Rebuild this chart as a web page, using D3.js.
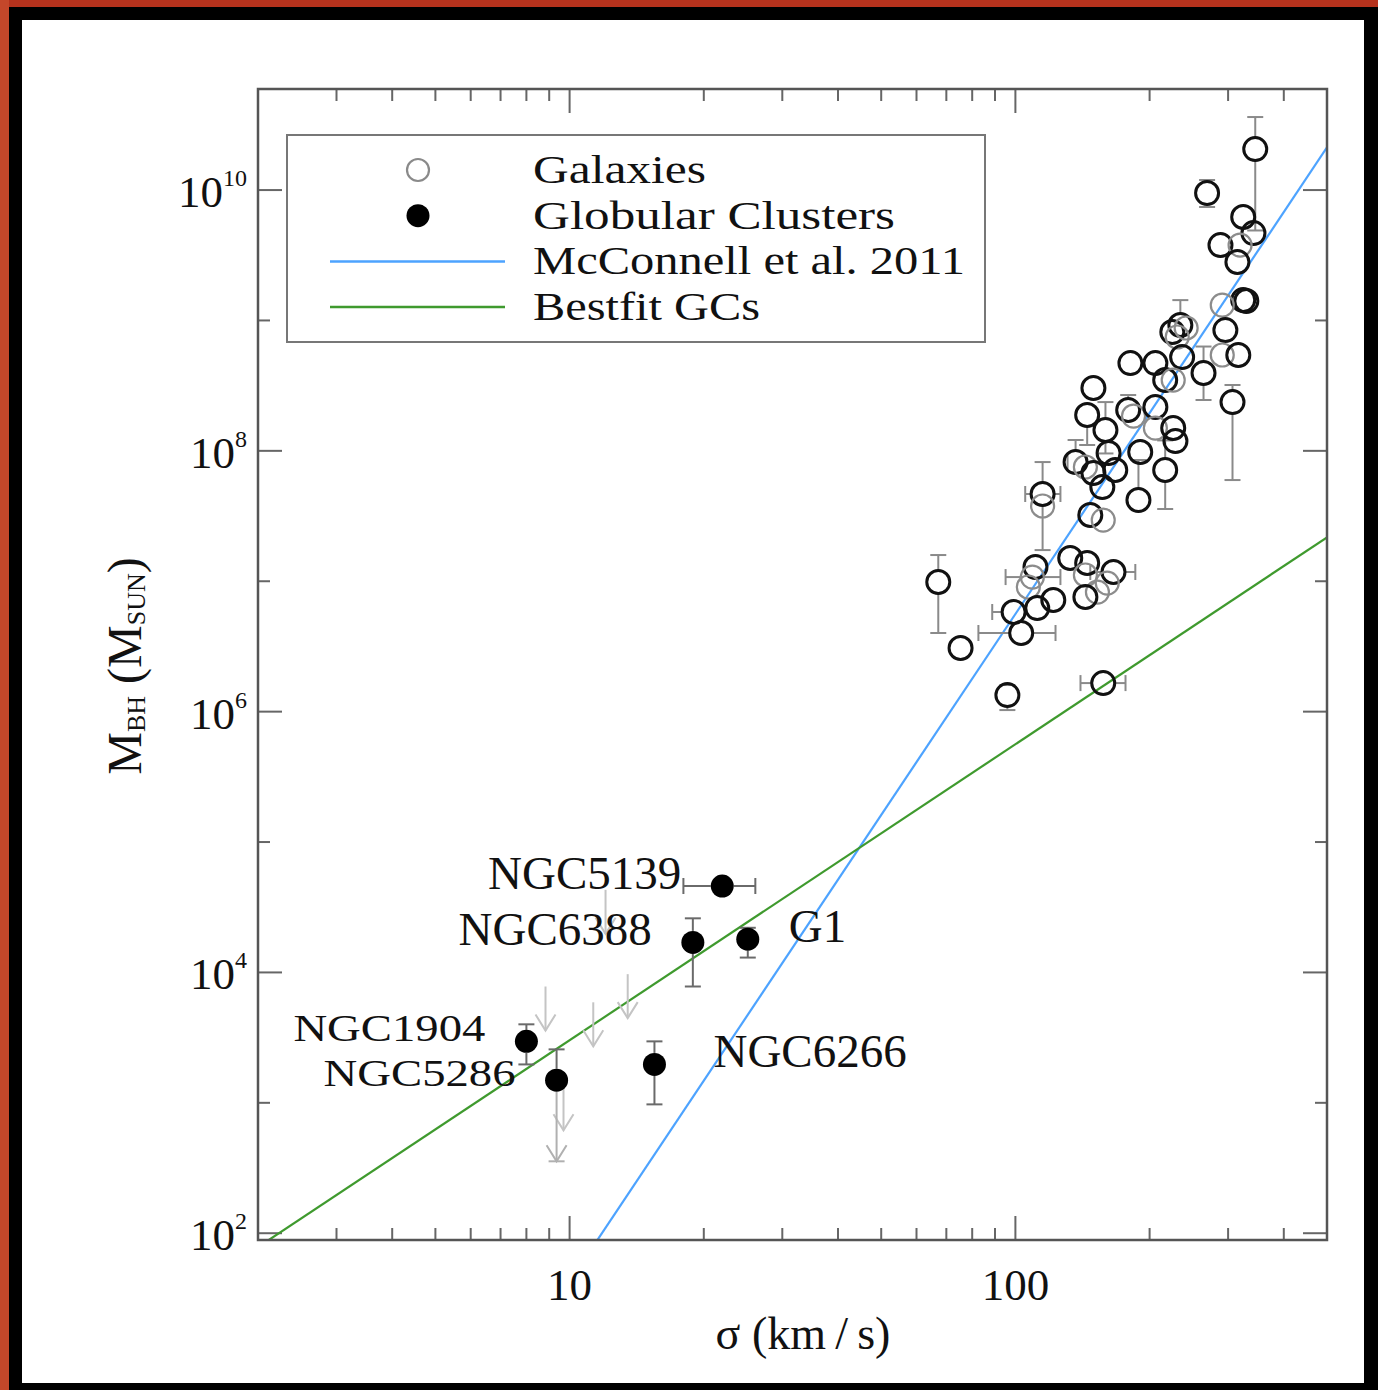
<!DOCTYPE html>
<html>
<head>
<meta charset="utf-8">
<script src="https://cdn.jsdelivr.net/npm/d3@7"></script>
<style>
  html, body { margin: 0; padding: 0; background: #000; }
  svg { display: block; }
  text { font-family: "Liberation Serif", "Times New Roman", serif; fill: #111; }
</style>
</head>
<body>
<div id="chart"></div>
<script>
// ---- data ----

// galaxies: [log10 sigma (km/s), log10 M_BH (Msun), faint outline?]
const galaxies = [
  [2.538, 10.314, 0], [2.430, 9.977, 0], [2.511, 9.793, 0], [2.534, 9.670, 0],
  [2.460, 9.578, 0], [2.504, 9.578, 1], [2.498, 9.448, 0], [2.511, 9.156, 0],
  [2.518, 9.149, 0], [2.464, 9.118, 1], [2.471, 8.926, 0], [2.352, 8.911, 0],
  [2.370, 8.965, 0], [2.383, 8.942, 1], [2.363, 8.873, 1], [2.374, 8.719, 0],
  [2.258, 8.673, 0], [2.314, 8.673, 0], [2.422, 8.597, 0], [2.464, 8.735, 1],
  [2.500, 8.735, 0], [2.336, 8.543, 0], [2.354, 8.543, 1], [2.175, 8.482, 0],
  [2.487, 8.374, 0], [2.161, 8.275, 0], [2.253, 8.313, 0], [2.265, 8.267, 1],
  [2.314, 8.336, 0], [2.202, 8.160, 0], [2.314, 8.175, 1], [2.354, 8.175, 0],
  [2.359, 8.075, 0], [2.280, 7.991, 0], [2.209, 7.983, 0], [2.135, 7.914, 0],
  [2.157, 7.876, 1], [2.175, 7.830, 0], [2.224, 7.853, 0], [2.195, 7.722, 0],
  [2.336, 7.853, 0], [2.276, 7.623, 0], [2.061, 7.669, 0], [2.061, 7.577, 1],
  [2.168, 7.508, 0], [2.197, 7.469, 1], [2.123, 7.178, 0], [2.161, 7.140, 0],
  [2.157, 7.048, 1], [2.220, 7.071, 0], [2.206, 6.986, 1], [2.184, 6.917, 1],
  [2.157, 6.879, 0], [2.045, 7.109, 0], [2.038, 7.032, 1], [2.029, 6.956, 1],
  [2.049, 6.794, 0], [2.085, 6.856, 0], [1.996, 6.764, 0], [2.013, 6.603, 0],
  [1.827, 6.994, 0], [1.877, 6.488, 0], [1.982, 6.127, 0], [2.197, 6.219, 0]
];

// galaxy error bars: [index, sigmaLo, sigmaHi, massLo, massHi] (log10, null = none)
const galaxyErrors = [
  [0, null, null, 9.69, 10.56],
  [1, null, null, 9.87, 10.077],
  [12, null, null, null, 9.156],
  [18, null, null, 8.39, 8.80],
  [24, null, null, 7.776, 8.505],
  [25, null, null, 8.045, null],
  [26, null, null, null, 8.428],
  [29, null, null, 7.98, 8.374],
  [35, 2.117, null, null, 8.083],
  [40, null, null, 7.554, 8.08],
  [41, null, null, null, 7.93],
  [42, 2.022, 2.101, 7.239, 7.914],
  [49, 2.168, 2.269, null, null],
  [54, 1.978, 2.101, null, null],
  [58, 1.948, null, null, null],
  [59, 1.917, 2.090, null, null],
  [60, null, null, 6.603, 7.201],
  [62, null, null, 6.012, 6.204],
  [63, 2.146, 2.247, null, null]
];

// globular clusters
const gcNames  = ["NGC5139", "NGC6388", "G1", "NGC1904", "NGC5286", "NGC6266"];
const gcSigma  = [22.0, 18.9, 25.1, 8.0, 9.35, 15.5];
const gcMass   = [4.6e4, 1.7e4, 1.8e4, 2.96e3, 1.49e3, 1.97e3];
const gcSigLo  = [18.0, null, null, null, null, null];
const gcSigHi  = [26.1, null, null, null, null, null];
const gcMassLo = [null, 7.8e3, 1.3e4, 1.97e3, 356, 973];
const gcMassHi = [null, 2.6e4, 2.2e4, 4.0e3, 2.57e3, 2.96e3];
const gcLowerIsLimit = [false, false, false, false, true, false];
// label side: -1 left of point, +1 right of point
const gcLabelSide = [-1, -1, 1, -1, -1, 1];

// upper limits (grey arrows): sigma, M_BH upper limit
const limitSigma = [8.83, 11.3, 13.5, 9.69, 12.04];
const limitMass  = [7.8e3, 5.9e3, 9.7e3, 1.34e3, 4.3e4];

// relations: log M = a + b log(sigma / s0)
const mcconnell = { a: 8.29, b: 5.12, s0: 200 };
const gcFit     = { a: 1.21, b: 2.27, s0: 1 };

const xMajor = [10, 100];
const xMinor = [3, 4, 5, 6, 7, 8, 9, 20, 30, 40, 50, 60, 70, 80, 90, 200, 300, 400];
const yMajorExp = [2, 4, 6, 8, 10];
const yMinorExp = [3, 5, 7, 9];

const legendItems = ["Galaxies", "Globular Clusters", "McConnell et al. 2011", "Bestfit GCs"];

// ---- layout ----
const W = 1378, H = 1390;
const plot = { left: 258, right: 1327, top: 89, bottom: 1240 };

const svg = d3.select("#chart").append("svg")
  .attr("width", W).attr("height", H);

// slide-like frame
svg.append("rect").attr("width", W).attr("height", H).attr("fill", "#000");
svg.append("rect").attr("x", 0).attr("y", 0).attr("width", W).attr("height", 7).attr("fill", "#b5321d");
svg.append("rect").attr("x", 0).attr("y", 0).attr("width", 9).attr("height", H).attr("fill", "#c4472a");
svg.append("rect").attr("x", 22).attr("y", 20).attr("width", 1342).attr("height", 1363).attr("fill", "#fff");

const x = d3.scaleLog().domain([2, 500]).range([plot.left, plot.right]);
const y = d3.scaleLog().domain([Math.pow(10, 1.948), Math.pow(10, 10.775)]).range([plot.bottom, plot.top]);

svg.append("clipPath").attr("id", "clip")
  .append("rect")
  .attr("x", plot.left).attr("y", plot.top)
  .attr("width", plot.right - plot.left).attr("height", plot.bottom - plot.top);

const tickColor = "#666";

// ticks (inward on all four sides)
const axes = svg.append("g").attr("stroke", tickColor).attr("stroke-width", 2);
function xTicks(vals, len) {
  vals.forEach(v => {
    axes.append("line").attr("x1", x(v)).attr("x2", x(v)).attr("y1", plot.bottom).attr("y2", plot.bottom - len);
    axes.append("line").attr("x1", x(v)).attr("x2", x(v)).attr("y1", plot.top).attr("y2", plot.top + len);
  });
}
function yTicks(exps, len) {
  exps.forEach(e => {
    const yy = y(Math.pow(10, e));
    axes.append("line").attr("x1", plot.left).attr("x2", plot.left + len).attr("y1", yy).attr("y2", yy);
    axes.append("line").attr("x1", plot.right).attr("x2", plot.right - len).attr("y1", yy).attr("y2", yy);
  });
}
xTicks(xMinor, 12);
xTicks(xMajor, 24);
yTicks(yMinorExp, 12);
yTicks(yMajorExp, 24);

// tick labels
svg.append("g").selectAll("text")
  .data(xMajor).enter().append("text")
  .attr("x", d => x(d)).attr("y", plot.bottom + 60)
  .attr("text-anchor", "middle")
  .style("font-size", "45px")
  .text(d => d);

const yLab = svg.append("g").selectAll("text")
  .data(yMajorExp).enter().append("text")
  .attr("x", plot.left - 11)
  .attr("y", d => y(Math.pow(10, d)) + 17)
  .attr("text-anchor", "end")
  .style("font-size", "45px");
yLab.append("tspan").text("10");
yLab.append("tspan").attr("dy", -21).style("font-size", "24px").text(d => d);

// axis titles
svg.append("text")
  .attr("x", 803).attr("y", 1349)
  .attr("text-anchor", "middle")
  .style("font-size", "46px")
  .text("σ (km\u2009/\u2009s)");

const yTitle = svg.append("text")
  .attr("transform", "translate(141,666) rotate(-90)")
  .attr("text-anchor", "middle")
  .style("font-size", "48px");
yTitle.append("tspan").text("M");
yTitle.append("tspan").attr("dy", 4).style("font-size", "26px").text("BH");
yTitle.append("tspan").attr("dy", -4).text(" (M");
yTitle.append("tspan").attr("dy", 4).style("font-size", "26px").text("SUN");
yTitle.append("tspan").attr("dy", -4).text(")");

// relations
const blue = "#4da3ff", green = "#3f9a2e";
const lines = svg.append("g").attr("clip-path", "url(#clip)");
function relation(p) {
  return x.domain().map(s => [x(s), y(Math.pow(10, p.a + p.b * Math.log10(s / p.s0)))]);
}
lines.append("path")
  .attr("d", d3.line()(relation(mcconnell)))
  .attr("fill", "none").attr("stroke", blue).attr("stroke-width", 2.2);
lines.append("path")
  .attr("d", d3.line()(relation(gcFit)))
  .attr("fill", "none").attr("stroke", green).attr("stroke-width", 2.2);

// error bar helper: draws bar from value to circle edge plus a cap
const R = 11.5, CAP = 8;
function vBar(g, cx, cy, yEnd, color, cap = true) {
  const dir = yEnd < cy ? -1 : 1;
  const start = cy + dir * R;
  if ((yEnd - start) * dir > 0) {
    g.append("line").attr("x1", cx).attr("x2", cx).attr("y1", start).attr("y2", yEnd)
      .attr("stroke", color).attr("stroke-width", 2);
  }
  if (cap) g.append("line").attr("x1", cx - CAP).attr("x2", cx + CAP).attr("y1", yEnd).attr("y2", yEnd)
    .attr("stroke", color).attr("stroke-width", 2);
}
function hBar(g, cx, cy, xEnd, color) {
  const dir = xEnd < cx ? -1 : 1;
  const start = cx + dir * R;
  if ((xEnd - start) * dir > 0) {
    g.append("line").attr("x1", start).attr("x2", xEnd).attr("y1", cy).attr("y2", cy)
      .attr("stroke", color).attr("stroke-width", 2);
  }
  g.append("line").attr("x1", xEnd).attr("x2", xEnd).attr("y1", cy - CAP).attr("y2", cy + CAP)
    .attr("stroke", color).attr("stroke-width", 2);
}
function arrowDown(g, cx, yTop, len, color) {
  const tip = yTop + len;
  g.append("line").attr("x1", cx).attr("x2", cx).attr("y1", yTop).attr("y2", tip)
    .attr("stroke", color).attr("stroke-width", 2);
  g.append("path")
    .attr("d", `M${cx - 10},${tip - 16} L${cx},${tip} L${cx + 10},${tip - 16}`)
    .attr("fill", "none").attr("stroke", color).attr("stroke-width", 2);
}

// upper-limit arrows
const limG = svg.append("g");
limitSigma.forEach((s, i) => arrowDown(limG, x(s), y(limitMass[i]), 44, "#c4c4c4"));

// galaxy error bars
const errG = svg.append("g");
const errColor = "#8a8a8a";
galaxyErrors.forEach(([i, sLo, sHi, mLo, mHi]) => {
  const cx = x(Math.pow(10, galaxies[i][0])), cy = y(Math.pow(10, galaxies[i][1]));
  if (mHi !== null) vBar(errG, cx, cy, y(Math.pow(10, mHi)), errColor);
  if (mLo !== null) vBar(errG, cx, cy, y(Math.pow(10, mLo)), errColor);
  if (sLo !== null) hBar(errG, cx, cy, x(Math.pow(10, sLo)), errColor);
  if (sHi !== null) hBar(errG, cx, cy, x(Math.pow(10, sHi)), errColor);
});

// galaxies (open circles)
svg.append("g").selectAll("circle")
  .data(galaxies).enter().append("circle")
  .attr("cx", d => x(Math.pow(10, d[0])))
  .attr("cy", d => y(Math.pow(10, d[1])))
  .attr("r", R)
  .attr("fill", "none")
  .attr("stroke", d => d[2] ? "#8c8c8c" : "#111")
  .attr("stroke-width", d => d[2] ? 2.2 : 3);

// globular clusters
const gcG = svg.append("g");
const gcErrColor = "#6a6a6a";
gcNames.forEach((name, i) => {
  const cx = x(gcSigma[i]), cy = y(gcMass[i]);
  if (gcMassHi[i] !== null) vBar(gcG, cx, cy, y(gcMassHi[i]), gcErrColor);
  if (gcMassLo[i] !== null) {
    if (gcLowerIsLimit[i]) {
      vBar(gcG, cx, cy, y(gcMassLo[i]), "#b0b0b0");
      gcG.append("path")
        .attr("d", `M${cx - 10},${y(gcMassLo[i]) - 16} L${cx},${y(gcMassLo[i])} L${cx + 10},${y(gcMassLo[i]) - 16}`)
        .attr("fill", "none").attr("stroke", "#b0b0b0").attr("stroke-width", 2);
    } else {
      vBar(gcG, cx, cy, y(gcMassLo[i]), gcErrColor);
    }
  }
  if (gcSigLo[i] !== null) hBar(gcG, cx, cy, x(gcSigLo[i]), gcErrColor);
  if (gcSigHi[i] !== null) hBar(gcG, cx, cy, x(gcSigHi[i]), gcErrColor);
});
gcG.selectAll("circle")
  .data(gcNames).enter().append("circle")
  .attr("cx", (d, i) => x(gcSigma[i]))
  .attr("cy", (d, i) => y(gcMass[i]))
  .attr("r", 11.5)
  .attr("fill", "#000");

// labels; the two stacked labels at lower left are set a little smaller so they do not collide
const gcLabelSize = [47, 47, 47, 38, 38, 47];
const gcLabelDy   = [3, 3, 3, 0, 6, 3];
gcG.selectAll("text")
  .data(gcNames).enter().append("text")
  .attr("x", (d, i) => x(gcSigma[i]) + gcLabelSide[i] * (i === 5 ? 59 : 41))
  .attr("y", (d, i) => y(gcMass[i]) + gcLabelDy[i])
  .attr("text-anchor", (d, i) => gcLabelSide[i] < 0 ? "end" : "start")
  .attr("textLength", (d, i) => gcLabelSize[i] < 47 ? 192 : null)
  .attr("lengthAdjust", "spacingAndGlyphs")
  .style("font-size", (d, i) => gcLabelSize[i] + "px")
  .text(d => d);

// plot frame
svg.append("rect")
  .attr("x", plot.left).attr("y", plot.top)
  .attr("width", plot.right - plot.left).attr("height", plot.bottom - plot.top)
  .attr("fill", "none").attr("stroke", "#555").attr("stroke-width", 2.5);

// legend
const leg = svg.append("g");
leg.append("rect")
  .attr("x", 287).attr("y", 135).attr("width", 698).attr("height", 207)
  .attr("fill", "#fff").attr("stroke", "#777").attr("stroke-width", 2);
const rowY = i => 170 + i * 45.7;
const legendWidth = [173, 362, 432, 227];
leg.append("circle").attr("cx", 418).attr("cy", rowY(0)).attr("r", 11)
  .attr("fill", "none").attr("stroke", "#8a8a8a").attr("stroke-width", 2.2);
leg.append("circle").attr("cx", 418).attr("cy", rowY(1)).attr("r", 11.5).attr("fill", "#000");
leg.append("line").attr("x1", 330).attr("x2", 505).attr("y1", rowY(2)).attr("y2", rowY(2))
  .attr("stroke", blue).attr("stroke-width", 2.5);
leg.append("line").attr("x1", 330).attr("x2", 505).attr("y1", rowY(3)).attr("y2", rowY(3))
  .attr("stroke", green).attr("stroke-width", 2.5);
leg.selectAll("text")
  .data(legendItems).enter().append("text")
  .attr("x", 533).attr("y", (d, i) => rowY(i) + 13)
  .attr("textLength", (d, i) => legendWidth[i])
  .attr("lengthAdjust", "spacingAndGlyphs")
  .style("font-size", "41px")
  .text(d => d);
</script>
</body>
</html>
